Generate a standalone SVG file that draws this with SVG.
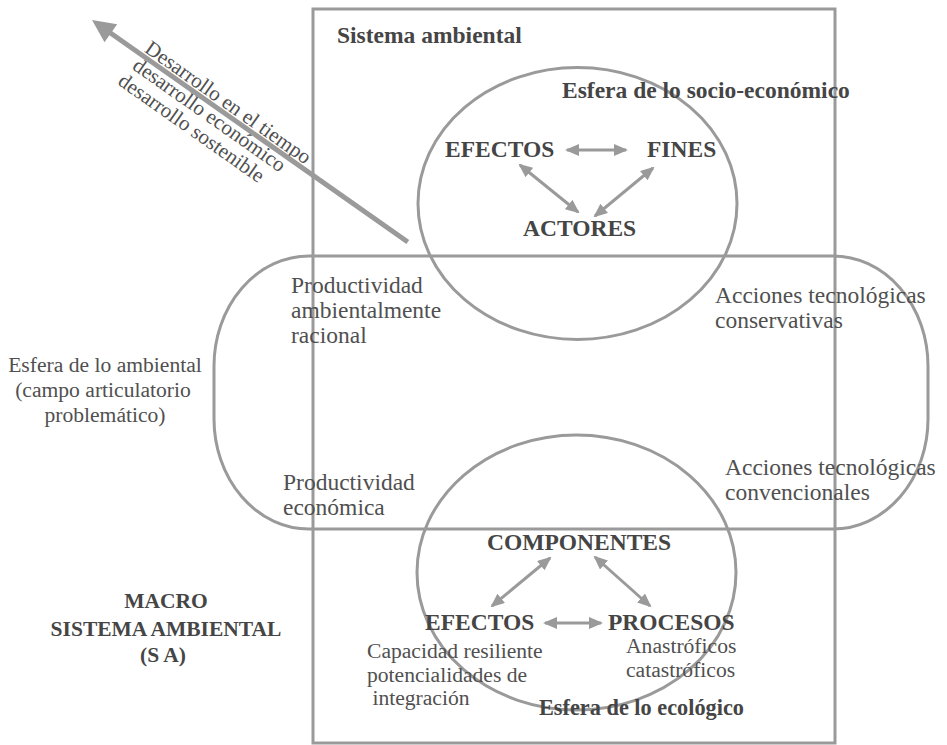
<svg xmlns="http://www.w3.org/2000/svg" width="947" height="745" viewBox="0 0 947 745">
<style>
.ln{fill:none;stroke:#9a9a9a;stroke-width:3}
.b{font-family:"Liberation Serif","Times New Roman",serif;font-weight:bold;fill:#454545}
.r{font-family:"Liberation Serif","Times New Roman",serif;fill:#505050}
.ar{stroke:#9a9a9a;stroke-width:3;fill:none;marker-start:url(#ah);marker-end:url(#ah)}
</style>
<defs>
<marker id="ah" viewBox="0 0 14 12" markerUnits="userSpaceOnUse" markerWidth="14" markerHeight="12" refX="12" refY="6" orient="auto-start-reverse">
<path d="M0,0 L14,6 L0,12 z" fill="#9a9a9a"/>
</marker>
</defs>
<rect width="947" height="745" fill="#fff"/>

<g id="sistema-ambiental">
<rect class="ln" x="313" y="9" width="522" height="734"/>
<text class="b" x="337" y="43" font-size="23.5">Sistema ambiental</text>
</g>

<g id="esfera-ambiental">
<rect class="ln" x="214" y="256" width="714" height="273" rx="95" ry="110"/>
<text class="r" x="105" y="372" font-size="21.6" text-anchor="middle">Esfera de lo ambiental</text>
<text class="r" x="103" y="397" font-size="21.6" text-anchor="middle">(campo articulatorio</text>
<text class="r" x="105" y="422" font-size="21.6" text-anchor="middle">problemático)</text>
<text class="r" x="291" y="293" font-size="23.5">Productividad</text>
<text class="r" x="291" y="318" font-size="23.5">ambientalmente</text>
<text class="r" x="291" y="343" font-size="23.5">racional</text>
<text class="r" x="283" y="490" font-size="23.5">Productividad</text>
<text class="r" x="283" y="515" font-size="23.5">económica</text>
<text class="r" x="715" y="303" font-size="23.5">Acciones tecnológicas</text>
<text class="r" x="715" y="328" font-size="23.5">conservativas</text>
<text class="r" x="725" y="475" font-size="23.5">Acciones tecnológicas</text>
<text class="r" x="725" y="500" font-size="23.5">convencionales</text>
</g>

<g id="esfera-socioeconomica">
<ellipse class="ln" cx="577.5" cy="203.5" rx="159.5" ry="136"/>
<text class="b" x="562" y="98" font-size="23.5">Esfera de lo socio-económico</text>
<text class="b" x="445" y="157" font-size="23.5">EFECTOS</text>
<text class="b" x="647" y="157" font-size="23.5">FINES</text>
<text class="b" x="523" y="236" font-size="23.5">ACTORES</text>
</g>

<g id="esfera-ecologica">
<ellipse class="ln" cx="576.5" cy="572.5" rx="159.5" ry="137.5"/>
<text class="b" x="487" y="550" font-size="23.5">COMPONENTES</text>
<text class="b" x="425" y="630" font-size="23.5">EFECTOS</text>
<text class="b" x="608" y="630" font-size="23.5">PROCESOS</text>
<text class="r" x="367" y="658" font-size="21.6">Capacidad resiliente</text>
<text class="r" x="367" y="682" font-size="21.6">potencialidades de</text>
<text class="r" x="367" y="705" font-size="21.6" xml:space="preserve"> integración</text>
<text class="r" x="626" y="653" font-size="21.6">Anastróficos</text>
<text class="r" x="626" y="677" font-size="21.6">catastróficos</text>
<text class="b" x="539" y="715" font-size="22.3">Esfera de lo ecológico</text>
</g>

<g id="macro">
<text class="b" x="166" y="608" font-size="21.5" text-anchor="middle">MACRO</text>
<text class="b" x="166" y="636" font-size="21.5" text-anchor="middle">SISTEMA AMBIENTAL</text>
<text class="b" x="163" y="662" font-size="21.5" text-anchor="middle">(S A)</text>
</g>

<g id="desarrollo" transform="translate(92,20) rotate(35.1)">
<text class="r" x="60" y="-4" font-size="21">Desarrollo en el tiempo</text>
<text class="r" x="60" y="17" font-size="21">desarrollo económico</text>
<text class="r" x="57" y="38" font-size="21">desarrollo sostenible</text>
</g>

<g id="connectors">
<g transform="translate(92,20) rotate(35.1)">
<line x1="20" y1="0" x2="386" y2="0" stroke="#9a9a9a" stroke-width="5"/>
<polygon points="0,0 23,-11 23,11" fill="#9a9a9a"/>
</g>
<line class="ar" x1="567" y1="150" x2="626" y2="150"/>
<line class="ar" x1="520" y1="165" x2="578" y2="212"/>
<line class="ar" x1="653" y1="168" x2="595" y2="216"/>
<line class="ar" x1="550" y1="558" x2="492" y2="606"/>
<line class="ar" x1="595" y1="557" x2="650" y2="606"/>
<line class="ar" x1="545" y1="623" x2="601" y2="623"/>
</g>
</svg>
